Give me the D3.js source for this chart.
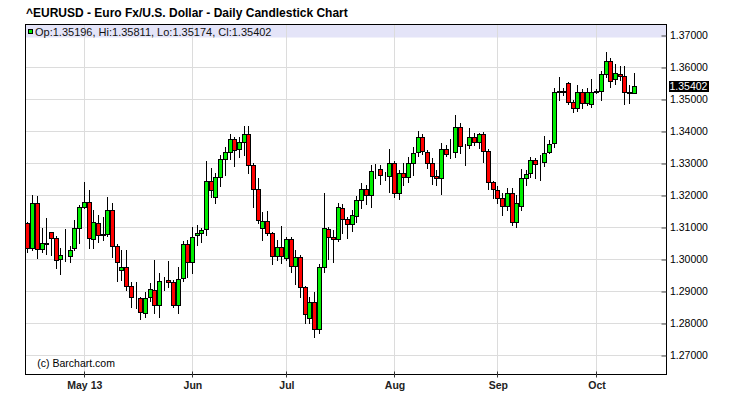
<!DOCTYPE html>
<html>
<head>
<meta charset="utf-8">
<script src="https://cdn.jsdelivr.net/npm/d3@7"></script>
<style>
  html, body { margin: 0; padding: 0; background: #fff; }
  svg { display: block; font-family: "Liberation Sans", Arial, sans-serif; }
</style>
</head>
<body>
<svg id="chart" width="737" height="398"></svg>
<script>
// ---- DATA ----
const title = "^EURUSD - Euro Fx/U.S. Dollar - Daily Candlestick Chart";
const startDate = "2013-04-15"; // first trading day shown (weekdays only)
const opens = [1.3112,1.3033,1.3174,1.3031,1.3049,1.3083,1.3065,1.2999,1.3012,1.3009,
1.3033,1.3096,1.3163,1.3177,1.3062,1.3112,1.3077,1.3077,1.3153,1.3041,
1.2965,1.2975,1.2917,1.2882,1.2879,1.2830,1.2882,1.2902,1.2856,1.2931,
1.2933,1.2927,1.2856,1.2942,1.3046,1.2990,1.3074,1.3080,1.3093,1.3243,
1.3193,1.3255,1.3312,1.3333,1.3374,1.3343,1.3365,1.3390,1.3294,1.3218,
1.3096,1.3119,1.3080,1.3010,1.3037,1.3003,1.3062,1.2978,1.3007,1.2912,
1.2815,1.2867,1.2780,1.2976,1.3093,1.3070,1.3063,1.3158,1.3124,1.3109,
1.3134,1.3183,1.3220,1.3199,1.3276,1.3280,1.3260,1.3260,1.3301,1.3205,
1.3270,1.3257,1.3301,1.3334,1.3380,1.3335,1.3299,1.3258,1.3252,1.3345,
1.3335,1.3335,1.3413,1.3353,1.3356,1.3382,1.3367,1.3390,1.3338,1.3240,
1.3216,1.3190,1.3167,1.3205,1.3117,1.3166,1.3252,1.3268,1.3308,1.3297,
1.3302,1.3335,1.3363,1.3521,1.3526,1.3549,1.3492,1.3471,1.3523,1.3487,
1.3483,1.3523,1.3525,1.3577,1.3619,1.3563,1.3579,1.3572,1.3521,1.35196];
const highs = [1.3116,1.3200,1.3197,1.3096,1.3129,1.3084,1.3072,1.3033,1.3094,1.3041,
1.3122,1.3169,1.3242,1.3216,1.3153,1.3138,1.3132,1.3193,1.3174,1.3047,
1.3028,1.3028,1.2928,1.2927,1.2882,1.2898,1.2924,1.2997,1.2955,1.2945,
1.2995,1.2934,1.2976,1.3056,1.3059,1.3101,1.3106,1.3097,1.3307,1.3283,
1.3268,1.3325,1.3351,1.3391,1.3381,1.3382,1.3416,1.3416,1.3300,1.3252,
1.3148,1.3150,1.3084,1.3059,1.3103,1.3068,1.3068,1.3028,1.3013,1.2916,
1.2882,1.2898,1.2984,1.3207,1.3099,1.3091,1.3174,1.3171,1.3131,1.3153,
1.3197,1.3237,1.3231,1.3294,1.3296,1.3294,1.3272,1.3343,1.3307,1.3278,
1.3301,1.3320,1.3349,1.3400,1.3390,1.3341,1.3315,1.3278,1.3362,1.3356,
1.3374,1.3450,1.3424,1.3359,1.3408,1.3393,1.3395,1.3398,1.3344,1.3244,
1.3228,1.3205,1.3221,1.3221,1.3200,1.3280,1.3278,1.3318,1.3316,1.3325,
1.3384,1.3372,1.3534,1.3570,1.3534,1.3552,1.3497,1.3544,1.3531,1.3533,
1.3563,1.3531,1.3588,1.3646,1.3627,1.3608,1.3604,1.3604,1.3544,1.35811];
const lows = [1.3021,1.3027,1.3002,1.3021,1.3015,1.3013,1.2971,1.2952,1.2994,1.2990,
1.3027,1.3049,1.3159,1.3035,1.3035,1.3054,1.3059,1.3072,1.3007,1.2931,
1.2934,1.2903,1.2851,1.2846,1.2812,1.2818,1.2869,1.2832,1.2820,1.2903,
1.2913,1.2849,1.2832,1.2931,1.2945,1.2955,1.3044,1.3054,1.3075,1.3193,
1.3176,1.3228,1.3263,1.3312,1.3291,1.3318,1.3325,1.3268,1.3162,1.3113,
1.3059,1.3075,1.2984,1.2997,1.2988,1.2997,1.2960,1.2922,1.2880,1.2799,
1.2799,1.2755,1.2768,1.2960,1.2999,1.2992,1.3056,1.3082,1.3065,1.3088,
1.3117,1.3160,1.3171,1.3163,1.3252,1.3234,1.3247,1.3210,1.3193,1.3187,
1.3231,1.3241,1.3263,1.3322,1.3328,1.3283,1.3234,1.3231,1.3203,1.3322,
1.3315,1.3320,1.3332,1.3294,1.3346,1.3356,1.3346,1.3304,1.3218,1.3190,
1.3174,1.3138,1.3153,1.3106,1.3101,1.3153,1.3231,1.3257,1.3252,1.3247,
1.3291,1.3331,1.3350,1.3497,1.3512,1.3484,1.3460,1.3463,1.3471,1.3481,
1.3476,1.3519,1.3496,1.3570,1.3538,1.3546,1.3559,1.3483,1.3487,1.35174];
const closes = [1.3033,1.3174,1.3030,1.3049,1.3048,1.3065,1.2996,1.3012,1.3013,1.3027,
1.3096,1.3163,1.3177,1.3065,1.3115,1.3075,1.3076,1.3153,1.3041,1.2990,
1.2974,1.2917,1.2882,1.2881,1.2835,1.2879,1.2905,1.2856,1.2930,1.2930,
1.2928,1.2856,1.2937,1.3046,1.2992,1.3069,1.3080,1.3090,1.3243,1.3216,
1.3255,1.3312,1.3335,1.3374,1.3341,1.3365,1.3390,1.3294,1.3218,1.3122,
1.3119,1.3080,1.3009,1.3037,1.3009,1.3062,1.2978,1.3007,1.2912,1.2828,
1.2867,1.2780,1.2974,1.3096,1.3068,1.3063,1.3162,1.3124,1.3109,1.3138,
1.3183,1.3220,1.3199,1.3274,1.3275,1.3263,1.3259,1.3299,1.3205,1.3270,
1.3255,1.3301,1.3332,1.3380,1.3338,1.3299,1.3260,1.3252,1.3345,1.3328,
1.3334,1.3413,1.3353,1.3352,1.3382,1.3367,1.3390,1.3338,1.3240,1.3218,
1.3190,1.3167,1.3205,1.3117,1.3176,1.3252,1.3265,1.3308,1.3297,1.3296,
1.3332,1.3358,1.3521,1.3526,1.3521,1.3490,1.3471,1.3523,1.3487,1.3523,
1.3523,1.3524,1.3577,1.3619,1.3556,1.3580,1.3571,1.3521,1.3520,1.35402];
const priceTicks = [1.27,1.28,1.29,1.30,1.31,1.32,1.33,1.34,1.35,1.36,1.37];
const monthTickDates = ["2013-05-01","2013-06-03","2013-07-01","2013-08-01","2013-09-02","2013-10-01"];
const monthTickLabels = ["May 13","Jun","Jul","Aug","Sep","Oct"];
const legendText = "Op:1.35196, Hi:1.35811, Lo:1.35174, Cl:1.35402";
const lastLabel = "1.35402";
const credit = "(c) Barchart.com";

// ---- build trading-day list (weekdays) ----
const fmt = d3.utcFormat("%Y-%m-%d");
const dates = [];
{
  let d = new Date(startDate + "T00:00:00Z");
  while (dates.length < opens.length) {
    const wd = d.getUTCDay();
    if (wd !== 0 && wd !== 6) dates.push(fmt(d));
    d = new Date(d.getTime() + 86400000);
  }
}
const candles = opens.map((o, i) => ({ i, date: dates[i], o, h: highs[i], l: lows[i], c: closes[i] }));

// ---- layout ----
const L = 25.5, R = 666.5, T = 24.5, B = 374.5;
const svg = d3.select("#chart");

const x = d3.scaleLinear().domain([0, opens.length - 1]).range([27.4, 633.7]);
const y = d3.scaleLinear().domain([1.26375, 1.373125]).range([375, 25]);

const px = v => Math.round(x(v));
const py = v => Math.round(y(v));

// background
svg.append("rect").attr("width", 737).attr("height", 398).attr("fill", "#fff");

// horizontal grid
svg.append("g").selectAll("line").data(priceTicks).join("line")
  .attr("x1", L).attr("x2", R)
  .attr("y1", d => py(d) + 0.5).attr("y2", d => py(d) + 0.5)
  .attr("stroke", "#dcdcdc").attr("stroke-width", 1);

// legend band
svg.append("rect").attr("x", L).attr("y", T).attr("width", R - L).attr("height", 13)
  .attr("fill", "#e4e4f8");

// vertical grid
const monthIdx = monthTickDates.map(d => dates.indexOf(d));
svg.append("g").selectAll("line").data(monthIdx).join("line")
  .attr("x1", d => px(d) + 0.5).attr("x2", d => px(d) + 0.5)
  .attr("y1", T).attr("y2", B)
  .attr("stroke", "#dcdcdc").attr("stroke-width", 1);

// clip
svg.append("clipPath").attr("id", "plotclip")
  .append("rect").attr("x", L + 0.5).attr("y", T + 0.5).attr("width", R - L - 1).attr("height", B - T - 1);

const plot = svg.append("g").attr("clip-path", "url(#plotclip)");
const cg = plot.selectAll("g.candle").data(candles).join("g").attr("class", "candle");

cg.append("line")
  .attr("x1", d => px(d.i) + 0.5).attr("x2", d => px(d.i) + 0.5)
  .attr("y1", d => py(d.h)).attr("y2", d => py(d.l) + 1)
  .attr("stroke", "#000").attr("stroke-width", 1);

cg.append("rect")
  .attr("x", d => px(d.i) - 1.5)
  .attr("width", 4)
  .attr("y", d => py(Math.max(d.o, d.c)) + 0.5)
  .attr("height", d => Math.max(0, py(Math.min(d.o, d.c)) - py(Math.max(d.o, d.c))))
  .attr("fill", d => d.c >= d.o ? "#00ee00" : "#ff0000")
  .attr("stroke", "#000").attr("stroke-width", 1);

// frame
svg.append("rect").attr("x", L).attr("y", T).attr("width", R - L).attr("height", B - T)
  .attr("fill", "none").attr("stroke", "#000").attr("stroke-width", 1);

// right axis
const yAxis = d3.axisRight(y).tickValues(priceTicks).tickFormat(d3.format(".5f"))
  .tickSizeInner(-5).tickSizeOuter(0).tickPadding(3);
const ya = svg.append("g").attr("transform", `translate(${R},0.5)`).call(yAxis);
ya.select(".domain").remove();
ya.selectAll(".tick line").attr("stroke", "#444");
ya.selectAll(".tick text").attr("font-family", "Liberation Sans, Arial, sans-serif")
  .attr("font-size", 10.5).attr("fill", "#000").attr("x", 3.5);

// bottom axis
const xAxis = d3.axisBottom(x).tickValues(monthIdx)
  .tickFormat((d, k) => monthTickLabels[k]).tickSizeInner(0).tickSizeOuter(0).tickPadding(7);
const xa = svg.append("g").attr("transform", `translate(0.5,${B})`).call(xAxis);
xa.select(".domain").remove();
xa.selectAll(".tick text").attr("font-family", "Liberation Sans, Arial, sans-serif")
  .attr("font-size", 10.5).attr("font-weight", "bold").attr("fill", "#222");
svg.append("g").selectAll("line").data(monthIdx).join("line")
  .attr("x1", d => px(d) + 0.5).attr("x2", d => px(d) + 0.5)
  .attr("y1", B - 3).attr("y2", B + 3)
  .attr("stroke", "#333");

// last price tag
const lastY = y(closes[closes.length - 1]);
svg.append("rect").attr("x", 669).attr("y", Math.round(lastY) - 5).attr("width", 40).attr("height", 11)
  .attr("fill", "#000");
svg.append("text").attr("x", 669.5).attr("y", Math.round(lastY) + 4)
  .attr("font-size", 10.5).attr("fill", "#fff").text(lastLabel);

// title
svg.append("text").attr("x", 26).attr("y", 17.3)
  .attr("font-size", 12).attr("font-weight", "bold").attr("fill", "#000").text(title);

// legend
svg.append("rect").attr("x", 28.5).attr("y", 29.5).attr("width", 4).attr("height", 4)
  .attr("fill", "#00ee00").attr("stroke", "#000");
svg.append("text").attr("x", 35).attr("y", 36.3)
  .attr("font-size", 11).attr("fill", "#111").text(legendText);

// credit
svg.append("text").attr("x", 37.3).attr("y", 366.5)
  .attr("font-size", 10.5).attr("fill", "#000").text(credit);
</script>
</body>
</html>
